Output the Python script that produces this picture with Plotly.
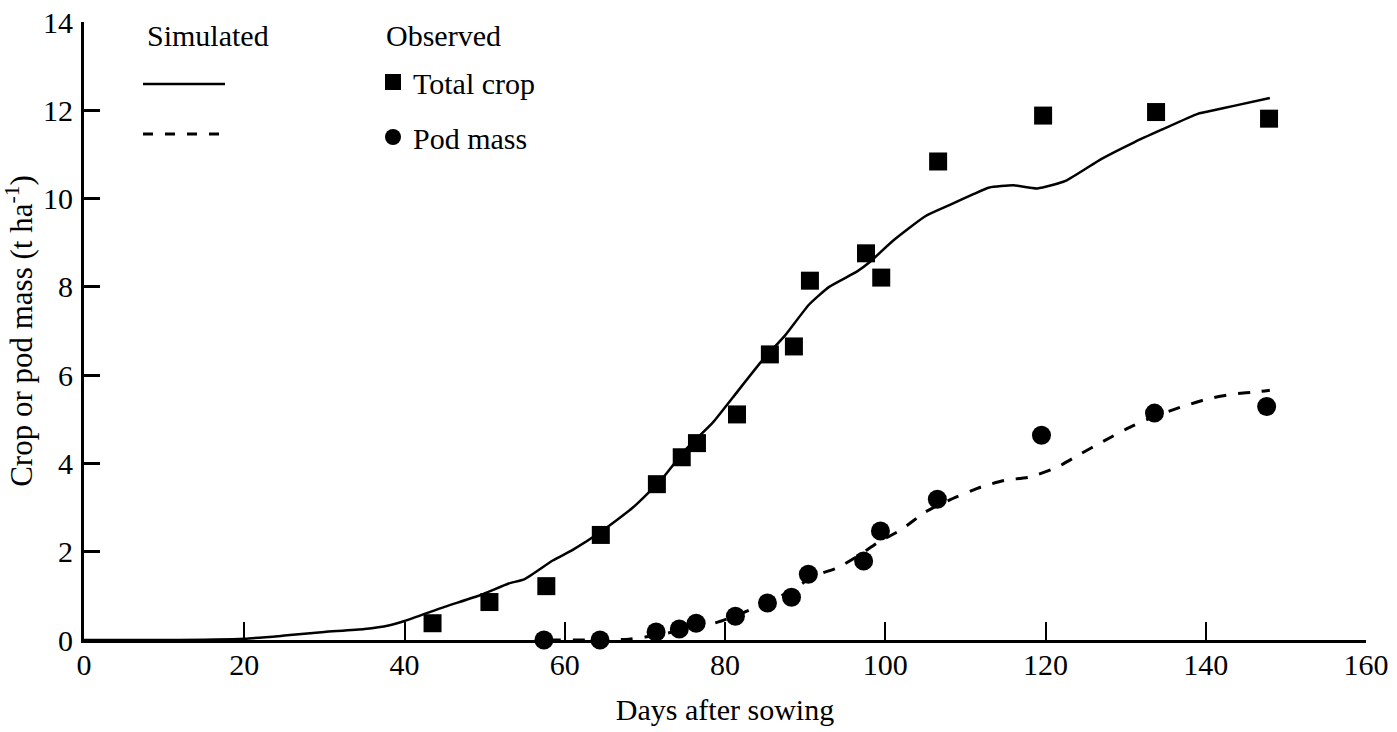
import plotly.graph_objects as go

# ---------------- data ----------------
days_sim = [0, 10, 20, 25, 30, 35, 38, 40, 45, 49.5, 53, 55, 58.5, 61, 64.5, 68.5, 72, 75,
            78.5, 81, 84.5, 87.5, 90.5, 93, 96.5, 98, 101, 105, 108, 111, 113, 116, 119,
            122.5, 127, 131, 134.5, 139, 141, 143.5, 148]
crop_sim = [0, 0, 0.03, 0.1, 0.18, 0.25, 0.33, 0.43, 0.75, 1.02, 1.28, 1.38, 1.8, 2.04, 2.45,
            3.0, 3.62, 4.3, 4.93, 5.5, 6.3, 6.9, 7.6, 8.0, 8.35, 8.55, 9.05, 9.6, 9.85, 10.1,
            10.25, 10.3, 10.23, 10.4, 10.9, 11.27, 11.56, 11.92, 12.0, 12.1, 12.28]

days_pod_sim = [58, 65, 68, 72, 75, 79, 82, 86, 89, 91, 94, 97, 99, 102, 105, 108, 112, 115,
                118, 121.4, 124.3, 127.2, 130.3, 133.4, 136.8, 140, 143.3, 146.8, 148]
pod_sim = [0, 0, 0.02, 0.12, 0.25, 0.4, 0.6, 0.9, 1.2, 1.45, 1.63, 1.95, 2.2, 2.5, 2.9, 3.17,
           3.47, 3.62, 3.69, 3.91, 4.21, 4.5, 4.8, 5.05, 5.27, 5.45, 5.57, 5.63, 5.66]

days_obs_crop = [43.5, 50.6, 57.7, 64.5, 71.5, 74.6, 76.5, 81.5, 85.6, 88.6, 90.6, 97.6, 99.5,
                 106.6, 119.7, 133.8, 147.9]
total_crop = [0.38, 0.86, 1.22, 2.38, 3.53, 4.14, 4.46, 5.11, 6.47, 6.65, 8.14, 8.76, 8.21,
              10.84, 11.88, 11.96, 11.81]

days_obs_pod = [57.4, 64.4, 71.4, 74.3, 76.4, 81.3, 85.3, 88.3, 90.4, 97.3, 99.4, 106.5,
                119.5, 133.6, 147.6]
pod_mass = [0.0, 0.0, 0.18, 0.25, 0.38, 0.54, 0.84, 0.97, 1.49, 1.79, 2.47, 3.19, 4.64,
            5.14, 5.29]

x_ticks = [0, 20, 40, 60, 80, 100, 120, 140, 160]
y_ticks = [0, 2, 4, 6, 8, 10, 12, 14]

FONT = "Liberation Serif, Times New Roman, serif"
W, H = 1397, 732
ML, MR, MT, MB = 84, 31, 22, 92
PW, PH = W - ML - MR, H - MT - MB


def px(x):
    return (x - ML) / PW


def py(y):
    return (H - MB - y) / PH


fig = go.Figure()

fig.add_trace(go.Scatter(x=days_sim, y=crop_sim, mode="lines",
                         line=dict(color="black", width=2.5, shape="spline", smoothing=0.5),
                         showlegend=False, cliponaxis=False))
fig.add_trace(go.Scatter(x=days_pod_sim, y=pod_sim, mode="lines",
                         line=dict(color="black", width=3, dash="12px,12px", shape="spline", smoothing=0.5),
                         showlegend=False, cliponaxis=False))
fig.add_trace(go.Scatter(x=days_obs_crop, y=total_crop, mode="markers", name="Total crop",
                         marker=dict(symbol="square", size=18, color="black"), legendgroup="a",
                         cliponaxis=False))
fig.add_trace(go.Scatter(x=days_obs_pod, y=pod_mass, mode="markers", name="Pod mass",
                         marker=dict(symbol="circle", size=19, color="black"), legendgroup="b",
                         cliponaxis=False))

axis_common = dict(showgrid=False, zeroline=False, showline=True, linecolor="black",
                   ticks="inside", tickcolor="black", automargin=False,
                   tickfont=dict(family=FONT, size=30, color="black"))

fig.update_xaxes(range=[0, 160], tickvals=x_ticks, linewidth=2.5, ticklen=18, tickwidth=1.5,
                 ticklabelstandoff=-4,
                 title=dict(text="Days after sowing", font=dict(family=FONT, size=30, color="black"),
                            standoff=20),
                 **axis_common)
fig.update_yaxes(range=[0, 14], tickvals=y_ticks, linewidth=3, ticklen=16, tickwidth=2.5,
                 ticklabelstandoff=2,
                 title=dict(text="Crop or pod mass (t ha<sup>-1</sup>)",
                            font=dict(family=FONT, size=31, color="black"), standoff=10),
                 **axis_common)

# legend headers and simulated line samples
fig.add_annotation(text="Simulated", x=px(145), y=py(35), xref="paper", yref="paper",
                   xanchor="left", yanchor="middle", showarrow=False,
                   font=dict(family=FONT, size=30, color="black"))
fig.add_annotation(text="Observed", x=px(384), y=py(36), xref="paper", yref="paper",
                   xanchor="left", yanchor="middle", showarrow=False,
                   font=dict(family=FONT, size=30, color="black"))
fig.add_shape(type="line", xref="paper", yref="paper", x0=px(143), x1=px(225), y0=py(84), y1=py(84),
              line=dict(color="black", width=2.5))
fig.add_shape(type="line", xref="paper", yref="paper", x0=px(143), x1=px(225), y0=py(134), y1=py(134),
              line=dict(color="black", width=3, dash="10px,12px"))

fig.update_layout(
    width=W, height=H,
    margin=dict(l=ML, r=MR, t=MT, b=MB),
    plot_bgcolor="white", paper_bgcolor="white",
    font=dict(family=FONT, color="black"),
    showlegend=True,
    legend=dict(x=px(373), y=py(56), xanchor="left", yanchor="top",
                font=dict(family=FONT, size=30, color="black"),
                bgcolor="rgba(0,0,0,0)", tracegroupgap=13, traceorder="grouped",
                itemsizing="trace"),
)

fig.write_html("out.html")
